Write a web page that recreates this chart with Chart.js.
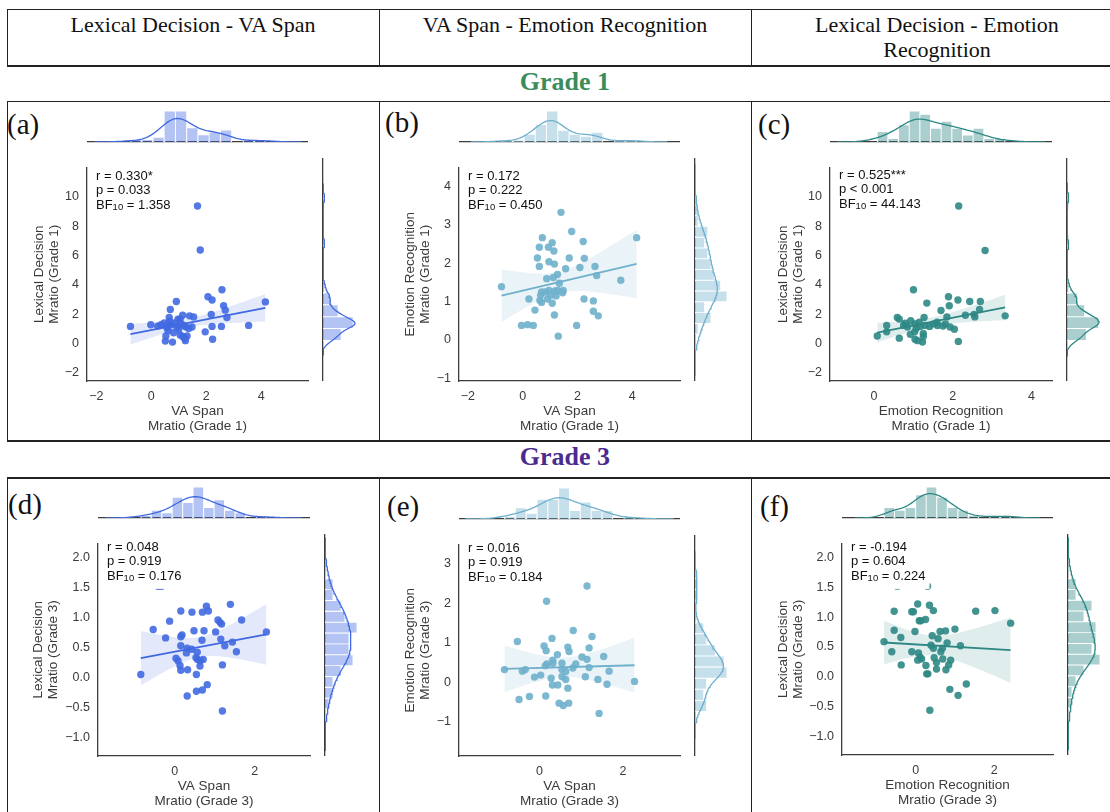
<!DOCTYPE html>
<html>
<head>
<meta charset="utf-8">
<title>Joint plots</title>
<script src="https://cdn.jsdelivr.net/npm/chart.js@4.4.1/dist/chart.umd.min.js"></script>
<style>
  body { margin: 0; background: #fff; }
  #page { position: relative; width: 1110px; height: 812px; overflow: hidden; font-family: "Liberation Serif", "Times New Roman", serif; color: #111; }
  #page canvas { position: absolute; }
  .rule { position: absolute; background: #222; }
  .head { position: absolute; top: 12px; font-size: 22px; line-height: 25px; text-align: center; }
  .grade { position: absolute; left: 7px; width: 1116px; font-size: 26px; line-height: 26px; font-weight: bold; text-align: center; }
  .tag { position: absolute; font-size: 29px; line-height: 29px; }
</style>
</head>
<body>
<div id="page">
  <div class="head" style="left:7px;width:372px">Lexical Decision - VA Span</div>
  <div class="head" style="left:379px;width:372px">VA Span - Emotion Recognition</div>
  <div class="head" style="left:751px;width:372px">Lexical Decision - Emotion<br>Recognition</div>
  <div class="grade" style="top:69px;color:#3a8d5a">Grade 1</div>
  <div class="grade" style="top:444px;color:#4b2b8f">Grade 3</div>
</div>
<script>
// values

var BINS = 12;

// (a) Grade 1: VA Span (x) vs Lexical Decision (y)
var a_vaSpan = [-0.76, -0.02, 0.23, 0.35, 0.47, 0.57, 0.61, 0.53, 0.51, 0.77, 0.69, 0.91, 0.65, 0.68, 0.73, 0.87, 0.93,
  0.81, 1.00, 1.05, 1.14, 1.09, 1.18, 1.05, 1.14, 1.21, 1.30, 1.24, 1.26, 1.39, 1.54, 1.48, 2.06, 2.21, 2.57, 2.18,
  2.63, 2.69, 2.75, 2.21, 1.96, 2.23, 2.55, 3.54, 4.15, 0.97, 1.36, 0.60];
var a_lexDec = [1.17, 1.28, 1.19, 1.28, 1.41, 1.08, 0.87, 0.52, 0.17, 0.10, 2.32, 2.87, 1.78, 1.50, 1.28, 1.41, 1.13,
  0.74, 0.98, 1.67, 1.93, 1.34, 1.24, 0.59, 0.48, 0.36, 0.52, 0.20, 1.13, 1.89, 1.82, 1.13, 3.19, 2.97, 3.67, 1.99,
  2.58, 2.28, 1.78, 1.17, 0.80, 0.30, 1.17, 1.24, 2.84, 1.67, 1.02, 1.20];
// outlying lexical decision scores: plotted, but the fitted line leaves them out
var a_outVaSpan = [1.68, 1.78];
var a_outLexDec = [9.38, 6.38];

// (b) Grade 1: VA Span (x) vs Emotion Recognition (y)
var b_vaSpan = [-0.77, -0.04, 0.18, 0.39, 0.23, 0.45, 0.54, 0.61, 0.72, 0.61, 0.63, 0.69, 0.66, 0.69, 0.82, 0.88, 0.94,
  0.96, 0.96, 0.91, 1.03, 1.08, 1.08, 1.14, 1.16, 1.12, 1.18, 1.22, 1.27, 1.28, 1.34, 1.40, 1.46, 1.48, 1.16, 1.30,
  1.57, 1.70, 1.79, 1.97, 2.09, 2.21, 2.25, 2.24, 2.58, 2.58, 2.64, 2.70, 2.76, 3.58, 4.16];
var b_emoRec = [1.39, 0.38, 0.40, 0.38, 1.07, 0.78, 2.14, 2.42, 2.67, 1.92, 1.03, 0.98, 1.17, 1.25, 1.25, 1.60, 2.42,
  2.04, 1.29, 1.07, 1.17, 0.96, 2.54, 2.32, 1.98, 1.63, 1.28, 1.15, 1.71, 1.29, 1.48, 3.33, 1.23, 1.29, 0.65, 0.10,
  1.86, 2.14, 2.83, 0.38, 1.89, 2.57, 2.13, 1.07, 1.02, 0.75, 1.92, 1.68, 0.63, 1.56, 2.67];

// (c) Grade 1: Emotion Recognition (x) vs Lexical Decision (y)
var c_emoRec = [0.08, 0.32, 0.32, 0.64, 0.59, 0.64, 0.75, 0.79, 0.85, 0.93, 0.92, 1.00, 1.04, 1.07, 1.03, 1.04, 1.10,
  1.15, 1.17, 1.23, 1.25, 1.25, 1.27, 1.30, 1.34, 1.41, 1.51, 1.60, 1.61, 1.70, 1.75, 1.81, 1.85, 1.93, 2.04, 1.91,
  1.89, 2.13, 2.14, 2.32, 2.43, 2.54, 2.56, 2.70, 2.68, 3.33];
var c_lexDec = [0.52, 0.80, 1.23, 0.37, 1.78, 1.67, 1.24, 1.39, 1.13, 1.56, 0.63, 3.67, 1.34, 1.02, 0.80, 0.30, 0.20,
  1.45, 1.17, 0.10, 0.69, 0.48, 1.78, 1.24, 2.76, 1.17, 1.34, 1.45, 1.23, 2.25, 1.19, 1.34, 1.82, 1.13, 0.98, 2.58,
  3.19, 2.97, 0.15, 1.93, 2.87, 1.99, 1.82, 2.87, 2.32, 1.89];
var c_outEmoRec = [2.15, 2.82];
var c_outLexDec = [9.38, 6.34];

// (d) Grade 3: VA Span (x) vs Lexical Decision (y)
var d_vaSpan = [-0.85, -0.54, -0.23, -0.13, 0.15, 0.15, 0.18, 0.15, 0.43, 0.69, 0.79, 0.84, 0.48, 0.73, 0.68, 0.31,
  0.29, 0.42, 0.56, 0.03, 0.08, 0.13, 0.15, 0.32, 0.53, 0.57, 0.63, 0.71, 0.63, 0.54, 0.31, 0.54, 0.69, 0.81, 1.02,
  1.08, 1.13, 1.17, 1.15, 1.25, 1.19, 1.39, 1.44, 1.54, 1.67, 2.29, 1.19];
var d_lexDec = [0.05, 0.80, 0.66, 0.94, 1.11, 0.68, 0.71, 0.53, 1.09, 1.09, 1.19, 1.11, 0.78, 0.78, 0.62, 0.49,
  0.41, 0.47, 0.42, 0.32, 0.28, 0.20, 0.12, 0.13, 0.33, 0.30, 0.28, 0.30, 0.19, 0.05, -0.31, -0.23, -0.21, -0.12, 0.76,
  0.96, 0.92, 0.89, 0.64, 0.53, 0.21, 1.22, 0.59, 0.43, 0.96, 0.76, -0.56];
// the two highest lexical decision scores sit under the statistics box
var d_outVaSpan = [-0.42, -0.33];
var d_outLexDec = [1.52, 1.52];

// (e) Grade 3: VA Span (x) vs Emotion Recognition (y)
var e_vaSpan = [-0.84, -0.53, -0.49, -0.41, -0.34, -0.24, -0.12, 0.03, 0.15, 0.14, 0.18, 0.11, 0.16, 0.17, 0.30, 0.32,
  0.32, 0.28, 0.31, 0.43, 0.44, 0.54, 0.54, 0.54, 0.63, 0.63, 0.68, 0.68, 0.71, 0.80, 0.87, 0.81, 1.02, 1.14, 1.19,
  1.19, 1.10, 1.26, 1.14, 1.40, 1.54, 1.62, 1.67, 2.28, 0.47, 0.57, 0.70, 1.43];
var e_emoRec = [0.32, 1.03, -0.44, 0.28, 0.32, -0.36, 0.13, 0.18, -0.35, 0.42, 0.46, 0.92, 0.80, 2.05, 1.11, 0.56,
  0.48, 0.10, -0.07, 0.70, -0.07, 0.48, 0.32, 0.14, 0.27, 0.07, -0.15, 0.89, 0.78, 0.36, 0.46, 1.31, 0.64, 0.58, 0.87,
  0.37, 0.14, 1.16, 2.44, 0.07, 0.65, -0.05, 0.28, 0.02, -0.53, -0.59, -0.53, -0.79];

// (f) Grade 3: Emotion Recognition (x) vs Lexical Decision (y)
var f_emoRec = [-0.81, -0.61, -0.55, -0.55, -0.38, -0.37, -0.10, -0.10, -0.02, 0.05, 0.09, 0.25, 0.07, 0.11, 0.15,
  0.05, 0.26, 0.28, 0.35, 0.45, 0.42, 0.39, 0.45, 0.47, 0.57, 0.53, 0.53, 0.62, 0.64, 0.68, 0.69, 0.76, 0.80, 0.84,
  0.89, 0.77, 1.00, 1.14, 0.87, 1.08, 1.29, 1.53, 2.02, 2.42, 0.36, -0.06, 0.13, 0.31];
var f_lexDec = [0.59, 0.42, 1.10, 0.78, 0.66, 0.20, 1.09, 0.42, 0.76, 1.22, 0.94, 0.96, 0.40, 0.33, 0.30,
  0.28, 0.19, 0.05, 1.20, 1.11, 0.69, 0.53, 0.48, 0.32, 0.64, 0.24, 0.13, 0.76, 0.42, 0.48, 0.30, 0.77, 0.57, 0.20,
  0.28, 0.12, 0.80, 0.52, -0.21, -0.31, -0.12, 1.10, 1.11, 0.90, -0.56, 1.09, 0.94, 0.05];
var f_outEmoRec = [-0.47, 0.30];
var f_outLexDec = [1.52, 1.52];

// tick labels
var ticksVa1 = [-2, 0, 2, 4];
var ticksLd1 = [-2, 0, 2, 4, 6, 8, 10];
var ticksEr1x = [0, 2, 4];
var ticksEr1y = [-1, 0, 1, 2, 3, 4];
var ticksVa3 = [0, 2];
var ticksLd3 = [-1, -0.5, 0, 0.5, 1, 1.5, 2];
var ticksEr3x = [0, 2];
var ticksEr3y = [-1, 0, 1, 2, 3];

// statistics printed in each panel
var statR = ["r = 0.330*", "r = 0.172", "r = 0.525***", "r = 0.048", "r = 0.016", "r = -0.194"];
var statP = ["p = 0.033", "p = 0.222", "p < 0.001", "p = 0.919", "p = 0.919", "p = 0.604"];
var statBF = ["1.358", "0.450", "44.143", "0.176", "0.184", "0.224"];

var colBlue = "#4169e1", colSky = "#6fb0cc", colTeal = "#2d8884";

var panels = [
  { tag: "(a)", tagX: 7, tagY: 110, xs: a_vaSpan, ys: a_lexDec, outX: a_outVaSpan, outY: a_outLexDec, color: colBlue,
    xr: [-2.34, 5.7], yr: [-2.55, 12.0], xt: ticksVa1, yt: ticksLd1, xDec: 0, yDec: 0,
    xTitle: ["VA Span", "Mratio (Grade 1)"], yTitle: ["Lexical Decision", "Mratio (Grade 1)"],
    left: 87, top: 158, w: 221, h: 223, yGap: 55, textDy: 12 },
  { tag: "(b)", tagX: 385, tagY: 108, xs: b_vaSpan, ys: b_emoRec, outX: [], outY: [], color: colSky,
    xr: [-2.32, 5.74], yr: [-1.07, 4.5], xt: ticksVa1, yt: ticksEr1y, xDec: 0, yDec: 0,
    xTitle: ["VA Span", "Mratio (Grade 1)"], yTitle: ["Emotion Recognition", "Mratio (Grade 1)"],
    left: 459, top: 158, w: 221, h: 223, yGap: 56, textDy: 12 },
  { tag: "(c)", tagX: 758, tagY: 110, xs: c_emoRec, ys: c_lexDec, outX: c_outEmoRec, outY: c_outLexDec, color: colTeal,
    xr: [-1.12, 4.52], yr: [-2.55, 12.0], xt: ticksEr1x, yt: ticksLd1, xDec: 0, yDec: 0,
    xTitle: ["Emotion Recognition", "Mratio (Grade 1)"], yTitle: ["Lexical Decision", "Mratio (Grade 1)"],
    left: 830, top: 158, w: 222, h: 223, yGap: 54, textDy: 11 },
  { tag: "(d)", tagX: 8, tagY: 490, xs: d_vaSpan, ys: d_lexDec, outX: d_outVaSpan, outY: d_outLexDec, color: colBlue,
    xr: [-1.92, 3.38], yr: [-1.31, 2.235], xt: ticksVa3, yt: ticksLd3, xDec: 0, yDec: 1,
    xTitle: ["VA Span", "Mratio (Grade 3)"], yTitle: ["Lexical Decision", "Mratio (Grade 3)"],
    left: 98, top: 534, w: 212, h: 222, yGap: 67, textDy: 7 },
  { tag: "(e)", tagX: 387, tagY: 492, xs: e_vaSpan, ys: e_emoRec, outX: [], outY: [], color: colSky,
    xr: [-1.93, 3.37], yr: [-1.87, 3.49], xt: ticksVa3, yt: ticksEr3y, xDec: 0, yDec: 0,
    xTitle: ["VA Span", "Mratio (Grade 3)"], yTitle: ["Emotion Recognition", "Mratio (Grade 3)"],
    left: 459, top: 535, w: 221, h: 221, yGap: 56, textDy: 7 },
  { tag: "(f)", tagX: 760, tagY: 492, xs: f_emoRec, ys: f_lexDec, outX: f_outEmoRec, outY: f_outLexDec, color: colTeal,
    xr: [-1.88, 3.5], yr: [-1.31, 2.235], xt: ticksEr3x, yt: ticksLd3, xDec: 0, yDec: 1,
    xTitle: ["Emotion Recognition", "Mratio (Grade 3)"], yTitle: ["Lexical Decision", "Mratio (Grade 3)"],
    left: 842, top: 534, w: 211, h: 221, yGap: 66, textDy: 7 }
];

// table rules: [left, top, width, height]
var rules = [
  [7, 8.5, 1103, 1.5], [7, 65, 1103, 1.5], [7, 100.5, 1103, 1.5], [7, 440, 1103, 1.5], [7, 477, 1103, 1.5],
  [6.5, 8.5, 1.5, 58], [378.5, 8.5, 1.5, 58], [750.5, 8.5, 1.5, 58],
  [6.5, 100.5, 1.5, 341], [378.5, 100.5, 1.5, 341], [750.5, 100.5, 1.5, 341],
  [6.5, 477, 1.5, 335], [378.5, 477, 1.5, 335], [750.5, 477, 1.5, 335]
];

Chart.defaults.font.family = '"Liberation Sans", Arial, sans-serif';

var page = document.getElementById("page");

function addDiv(cls, css, text) {
  var d = document.createElement("div");
  d.className = cls;
  d.style.cssText = css;
  if (text) d.textContent = text;
  page.appendChild(d);
  return d;
}

function addCanvas(left, top, w, h) {
  var c = document.createElement("canvas");
  c.width = w; c.height = h;
  c.style.left = left + "px"; c.style.top = top + "px";
  c.style.width = w + "px"; c.style.height = h + "px";
  page.appendChild(c);
  return c;
}

function rgba(hex, a) {
  var n = parseInt(hex.slice(1), 16);
  return "rgba(" + (n >> 16) + "," + ((n >> 8) & 255) + "," + (n & 255) + "," + a + ")";
}

function mean(v) { return v.reduce(function (s, x) { return s + x; }, 0) / v.length; }

function quantile(sorted, q) {
  var pos = (sorted.length - 1) * q, lo = Math.floor(pos), hi = Math.ceil(pos);
  return sorted[lo] + (sorted[hi] - sorted[lo]) * (pos - lo);
}

// gaussian kde with scott's bandwidth, grid cut at 3 bandwidths
function kdeCurve(v) {
  var n = v.length, m = mean(v);
  var sd = Math.sqrt(v.reduce(function (s, x) { return s + (x - m) * (x - m); }, 0) / (n - 1));
  var s = v.slice().sort(function (a, b) { return a - b; });
  var iqr = (quantile(s, 0.75) - quantile(s, 0.25)) / 1.349;
  var bw = 1.059 * Math.min(sd, iqr) * Math.pow(n, -0.2);
  var lo = s[0] - 3 * bw, hi = s[n - 1] + 3 * bw, out = [];
  for (var k = 0; k <= 140; k++) {
    var g = lo + (hi - lo) * k / 140, d = 0;
    for (var i = 0; i < n; i++) d += Math.exp(-0.5 * Math.pow((g - v[i]) / bw, 2));
    out.push({ v: g, d: d / (n * bw * Math.sqrt(2 * Math.PI)) });
  }
  return out;
}

function histogram(v, bins) {
  var lo = Math.min.apply(null, v), hi = Math.max.apply(null, v), w = (hi - lo) / bins;
  var counts = [];
  for (var k = 0; k < bins; k++) counts.push(0);
  v.forEach(function (x) { counts[Math.min(bins - 1, Math.floor((x - lo) / w))]++; });
  return counts.map(function (c, k) { return { c: lo + (k + 0.5) * w, d: c / (v.length * w) }; });
}

// least squares line with a 99% confidence band
function fitLine(xs, ys) {
  var n = xs.length, mx = mean(xs), my = mean(ys), sxx = 0, sxy = 0, sse = 0, i;
  for (i = 0; i < n; i++) { sxx += (xs[i] - mx) * (xs[i] - mx); sxy += (xs[i] - mx) * (ys[i] - my); }
  var b = sxy / sxx, a = my - b * mx;
  for (i = 0; i < n; i++) sse += Math.pow(ys[i] - a - b * xs[i], 2);
  var s = Math.sqrt(sse / (n - 2)), t = 2.68;
  var lo = Math.min.apply(null, xs), hi = Math.max.apply(null, xs);
  var up = [], dn = [];
  for (var k = 0; k <= 40; k++) {
    var g = lo + (hi - lo) * k / 40, yh = a + b * g;
    var half = t * s * Math.sqrt(1 / n + (g - mx) * (g - mx) / sxx);
    up.push({ x: g, y: yh + half });
    dn.push({ x: g, y: yh - half });
  }
  return { line: [{ x: lo, y: a + b * lo }, { x: hi, y: a + b * hi }], up: up, dn: dn };
}

function fmtTick(v, dec) { return (v < 0 ? "\u2212" : "") + Math.abs(v).toFixed(dec); }

function axisOpts(range, ticks, dec, title, isX, size) {
  return {
    type: "linear", min: range[0], max: range[1],
    grid: { display: false, drawTicks: false },
    border: { display: true, color: "#3c3c3c", width: 1.3 },
    ticks: { color: "#3a3a3a", font: { size: 12.5 }, padding: 8, autoSkip: false, maxRotation: 0,
      callback: function (v) { return fmtTick(v, dec); } },
    title: { display: true, text: title, color: "#3a3a3a", font: { size: 13.5, lineHeight: 1.1 }, padding: 0 },
    afterBuildTicks: function (s) { s.ticks = ticks.map(function (v) { return { value: v }; }); },
    afterFit: function (s) { if (isX) s.height = size; else s.width = size; }
  };
}

function statsPlugin(idx, p) {
  return {
    id: "stats" + idx,
    afterDatasetsDraw: function (chart) {
      var ctx = chart.ctx, area = chart.chartArea;
      var x = area.left + 9, y = area.top + p.textDy, lh = 14.7;
      ctx.save();
      ctx.textAlign = "left";
      ctx.textBaseline = "alphabetic";
      ctx.font = '13px "Liberation Sans"';
      var wBF = ctx.measureText("BF").width, wEq = ctx.measureText(" = " + statBF[idx]).width;
      var w = Math.max(ctx.measureText(statR[idx]).width, ctx.measureText(statP[idx]).width);
      ctx.font = '9.5px "Liberation Sans"';
      var wSub = ctx.measureText("10").width;
      w = Math.max(w, wBF + wSub + wEq);
      ctx.fillStyle = "#fff";
      ctx.fillRect(x - 4, area.top + 1, w + 8, y + 2 * lh + 9 - area.top - 1);
      ctx.fillStyle = "#111";
      ctx.font = '13px "Liberation Sans"';
      ctx.fillText(statR[idx], x, y);
      ctx.fillText(statP[idx], x, y + lh);
      ctx.fillText("BF", x, y + 2 * lh);
      ctx.fillText(" = " + statBF[idx], x + wBF + wSub, y + 2 * lh);
      ctx.font = '9.5px "Liberation Sans"';
      ctx.fillText("10", x + wBF, y + 2 * lh + 1);
      ctx.restore();
    }
  };
}

var baseOpts = {
  animation: false, responsive: false, devicePixelRatio: 1, events: [],
  plugins: { legend: { display: false }, tooltip: { enabled: false } }
};

function drawMain(idx, p) {
  var T = 6, R = 6, B = 53;
  var cv = addCanvas(p.left - p.yGap, p.top - T, p.yGap + p.w + R, T + p.h + B);
  var reg = fitLine(p.xs, p.ys);
  var allX = p.xs.concat(p.outX), allY = p.ys.concat(p.outY);
  var pts = allX.map(function (x, i) { return { x: x, y: allY[i] }; });
  new Chart(cv, {
    type: "scatter",
    data: {
      datasets: [
        { type: "line", data: reg.up, fill: "+1", backgroundColor: rgba(p.color, 0.15),
          borderColor: "rgba(0,0,0,0)", pointRadius: 0, order: 2 },
        { type: "line", data: reg.dn, fill: false, borderColor: "rgba(0,0,0,0)", pointRadius: 0, order: 2 },
        { type: "line", data: reg.line, borderColor: p.color, borderWidth: 1.8, pointRadius: 0, fill: false, order: 1 },
        { data: pts, backgroundColor: rgba(p.color, 0.9), borderWidth: 0, pointRadius: 3.7, order: 3 }
      ]
    },
    options: Object.assign({}, baseOpts, {
      layout: { padding: { top: T, right: R, left: 0, bottom: 0 } },
      scales: {
        x: axisOpts(p.xr, p.xt, p.xDec, p.xTitle, true, B),
        y: axisOpts(p.yr, p.yt, p.yDec, p.yTitle, false, p.yGap)
      }
    }),
    plugins: [statsPlugin(idx, p)]
  });
}

function hiddenAxis(range) {
  return {
    type: "linear", min: range[0], max: range[1], offset: false,
    grid: { display: false, drawTicks: false }, ticks: { display: false },
    border: { display: true, color: "#3c3c3c", width: 1.3 },
    afterBuildTicks: function (s) { s.ticks = [{ value: s.min }]; }
  };
}

function peakOf(hist, kde) {
  return Math.max.apply(null, hist.map(function (h) { return h.d; }).concat(kde.map(function (k) { return k.d; })));
}

function drawTopMargin(p) {
  var v = p.xs.concat(p.outX);
  var hist = histogram(v, BINS), kde = kdeCurve(v);
  var cv = addCanvas(p.left, p.top - 16 - 32, p.w, 33);
  var xAxis = hiddenAxis(p.xr);
  xAxis.afterFit = function (s) { s.height = 0; };
  new Chart(cv, {
    type: "bar",
    data: {
      datasets: [
        { type: "line", data: kde.map(function (k) { return { x: k.v, y: k.d }; }), borderColor: p.color,
          borderWidth: 1.3, pointRadius: 0, fill: false, order: 1 },
        { data: hist.map(function (h) { return { x: h.c, y: h.d }; }), backgroundColor: rgba(p.color, 0.4),
          borderColor: "#fff", borderWidth: 0.8, barPercentage: 1, categoryPercentage: 1, order: 2 }
      ]
    },
    options: Object.assign({}, baseOpts, {
      layout: { padding: { bottom: 1 } },
      scales: { x: xAxis, y: { display: false, min: 0, max: peakOf(hist, kde) * 1.03 } }
    })
  });
}

function drawRightMargin(p) {
  var v = p.ys.concat(p.outY);
  var hist = histogram(v, BINS), kde = kdeCurve(v);
  var cv = addCanvas(p.left + p.w + 15 - 1, p.top, 34, p.h);
  var yAxis = hiddenAxis(p.yr);
  yAxis.afterFit = function (s) { s.width = 0; };
  new Chart(cv, {
    type: "bar",
    data: {
      datasets: [
        { type: "line", indexAxis: "y", data: kde.map(function (k) { return { x: k.d, y: k.v }; }),
          borderColor: p.color, borderWidth: 1.3, pointRadius: 0, fill: false, order: 1 },
        { data: hist.map(function (h) { return { x: h.d, y: h.c }; }), backgroundColor: rgba(p.color, 0.4),
          borderColor: "#fff", borderWidth: 0.8, barPercentage: 1, categoryPercentage: 1, order: 2 }
      ]
    },
    options: Object.assign({}, baseOpts, {
      indexAxis: "y",
      layout: { padding: { left: 1 } },
      scales: { y: yAxis, x: { display: false, min: 0, max: peakOf(hist, kde) * 1.03 } }
    })
  });
}

rules.forEach(function (r) {
  addDiv("rule", "left:" + r[0] + "px;top:" + r[1] + "px;width:" + r[2] + "px;height:" + r[3] + "px");
});

panels.forEach(function (p, i) {
  addDiv("tag", "left:" + p.tagX + "px;top:" + p.tagY + "px", p.tag);
  drawMain(i, p);
  drawTopMargin(p);
  drawRightMargin(p);
});
</script>
</body>
</html>
